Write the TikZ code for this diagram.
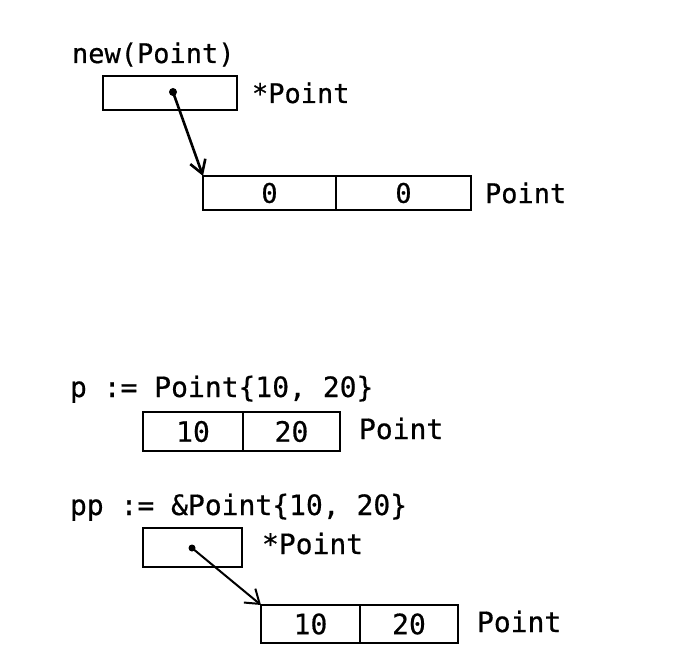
\documentclass[tikz,border=0pt]{standalone}
\usepackage{fontspec}
\newfontfamily\monofont[FakeBold=0.6]{DejaVu Sans Mono}
\usetikzlibrary{arrows.meta}
\tikzset{
  lbl/.style={inner sep=0pt, outer sep=0pt, anchor=base west, font=\monofont\fontsize{27}{30}\selectfont},
  lblb/.style={lbl, font=\monofont\fontsize{28}{30}\selectfont},
  cell/.style={draw, line width=2.6pt, inner sep=0pt, outer sep=0pt, anchor=north west, font=\monofont\fontsize{27}{30}\selectfont},
  cellb/.style={cell, line width=2.3pt, font=\monofont\fontsize{28}{30}\selectfont},
  ptr/.style={line width=2.6pt, -{Straight Barb[length=13pt, width=16pt, line width=2.6pt]}},
  ptrb/.style={line width=2pt, -{Straight Barb[length=13pt, width=18pt, line width=2pt]}},
}
\begin{document}
\begin{tikzpicture}[x=1pt,y=-1pt]
\useasboundingbox (0,0) rectangle (688,666);
% top: new(Point)
\node[lbl] (t1) at (72,63) {new(Point)};
\node[cell, minimum width=134pt, minimum height=34pt] (pb1) at (103,76) {};
\node[lbl] (t2) at (252,103) {*Point};
\node[cell, minimum width=133pt, minimum height=34pt] (c1) at (203,176) {0};
\node[cell, minimum width=135pt, minimum height=34pt] (c2) at (336,176) {0};
\node[lbl] (t3) at (485,203) {Point};
\coordinate (d1) at (173,92);
\fill (d1) circle (4pt);
\draw[ptr] (d1) -- (c1.north west);
% p := Point{10, 20}
\node[lblb] (t4) at (70,397) {p := Point\{10, 20\}};
\node[cellb, minimum width=100pt, minimum height=39pt] (c3) at (143,412) {10};
\node[cellb, minimum width=97pt, minimum height=39pt] (c4) at (243,412) {20};
\node[lblb] (t5) at (359,439) {Point};
% pp := &Point{10, 20}
\node[lblb] (t6) at (70,515) {pp := \&Point\{10, 20\}};
\node[cellb, minimum width=99pt, minimum height=39pt] (pb2) at (143,528) {};
\node[lblb] (t7) at (262,554) {*Point};
\node[cellb, minimum width=99pt, minimum height=38pt] (c5) at (261,605) {10};
\node[cellb, minimum width=98pt, minimum height=38pt] (c6) at (360,605) {20};
\node[lblb] (t8) at (477,632) {Point};
\coordinate (d2) at (192,548);
\fill (d2) circle (3.5pt);
\draw[ptrb] (d2) -- (c5.north west);
\end{tikzpicture}
\end{document}
